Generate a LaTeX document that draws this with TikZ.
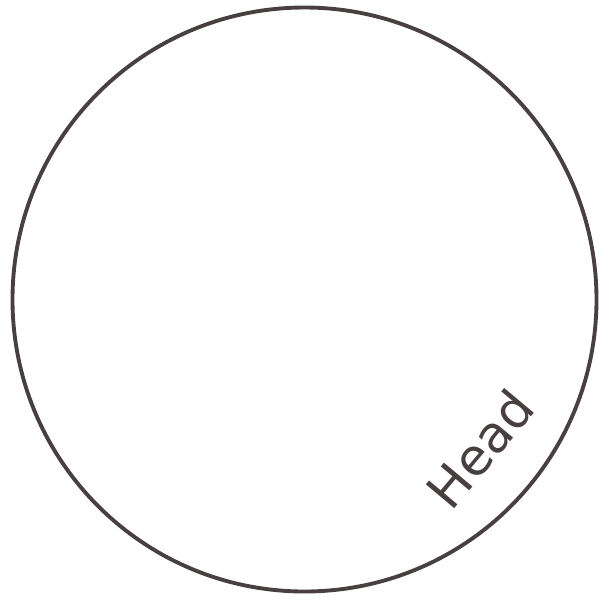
\documentclass[tikz,border=0pt]{standalone}
\usepackage{fontspec}
\setmainfont{DejaVu Sans}
\definecolor{pencilgray}{RGB}{72,64,64}

\begin{document}
\begin{tikzpicture}[x=1cm,y=1cm,line cap=round,line join=round]
        \useasboundingbox (0,0) rectangle (6.06,5.99);
        \coordinate (O) at (3.045,2.995);

        % Contorno de la cabeza
        \draw[pencilgray,line width=1.1pt] (O) circle (2.92);

        % Rotulo
        \node[pencilgray,rotate=50,font=\fontsize{14.5}{17}\selectfont] (head) at (4.80,1.50) {Head};

    \end{tikzpicture}
\end{document}
